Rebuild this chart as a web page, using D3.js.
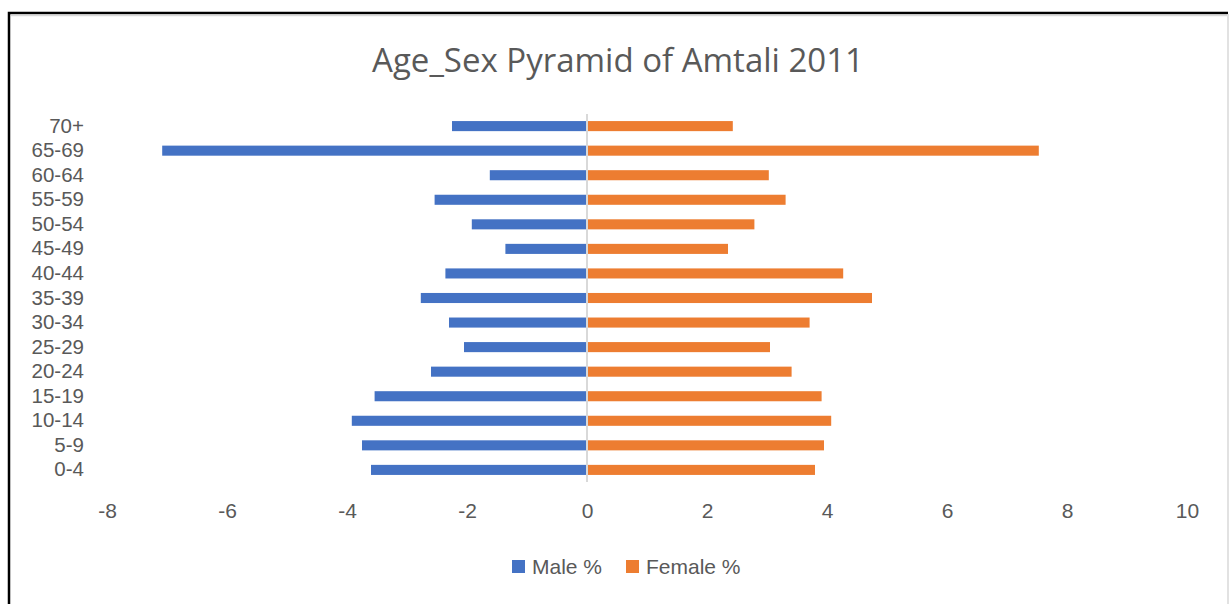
<!DOCTYPE html>
<html>
<head>
<meta charset="utf-8">
<script src="https://cdn.jsdelivr.net/npm/d3@7"></script>
<style>
  body { margin: 0; background: #fff; }
  svg text { font-family: "Liberation Sans", Arial, sans-serif; fill: #595959; }
  svg text.title { font-family: "Open Sans", "Noto Sans", sans-serif; }
</style>
</head>
<body>
<script>
const ageGroups = ["70+", "65-69", "60-64", "55-59", "50-54", "45-49", "40-44", "35-39",
  "30-34", "25-29", "20-24", "15-19", "10-14", "5-9", "0-4"];
const maleValues = [-2.25, -7.08, -1.62, -2.54, -1.92, -1.36, -2.36, -2.77,
  -2.3, -2.05, -2.6, -3.54, -3.92, -3.75, -3.6];
const femaleValues = [2.43, 7.53, 3.03, 3.31, 2.79, 2.35, 4.27, 4.75,
  3.71, 3.05, 3.41, 3.91, 4.07, 3.95, 3.8];
const xTicks = [-8, -6, -4, -2, 0, 2, 4, 6, 8, 10];
const seriesNames = ["Male %", "Female %"];
const colors = ["#4472c4", "#ed7d31"];

const w = 1229;
const h = 604;

const svg = d3.select("body")
  .append("svg")
  .attr("width", w)
  .attr("height", h);

// frame: black left/top edge, light right edge
svg.append("path")
  .attr("d", `M9,${h} V13 H1228`)
  .attr("fill", "none")
  .attr("stroke", "#000")
  .attr("stroke-width", 2.5);
svg.append("line")
  .attr("x1", 11).attr("x2", 1227).attr("y1", 15.5).attr("y2", 15.5)
  .attr("stroke", "#d9d9d9").attr("stroke-width", 1.5);
svg.append("line")
  .attr("x1", 1228).attr("x2", 1228).attr("y1", 14).attr("y2", h)
  .attr("stroke", "#d9d9d9").attr("stroke-width", 1.5);

svg.append("text")
  .attr("class", "title")
  .attr("x", 618)
  .attr("y", 72)
  .attr("text-anchor", "middle")
  .style("font-size", "33px")
  .text("Age_Sex Pyramid of Amtali 2011");

const xScale = d3.scaleLinear()
  .domain([-8, 10])
  .range([107, 1187]);

const yScale = d3.scaleBand()
  .domain(ageGroups)
  .range([113.7, 482.3])
  .paddingInner(0.59)
  .paddingOuter(0.3);

// bars
const rows = ageGroups.map((g, i) => ({ g, male: maleValues[i], female: femaleValues[i] }));

svg.selectAll("rect.male")
  .data(rows)
  .enter()
  .append("rect")
  .attr("class", "male")
  .attr("x", d => xScale(d.male))
  .attr("y", d => yScale(d.g))
  .attr("width", d => xScale(0) - xScale(d.male))
  .attr("height", yScale.bandwidth())
  .attr("fill", colors[0]);

svg.selectAll("rect.female")
  .data(rows)
  .enter()
  .append("rect")
  .attr("class", "female")
  .attr("x", xScale(0))
  .attr("y", d => yScale(d.g))
  .attr("width", d => xScale(d.female) - xScale(0))
  .attr("height", yScale.bandwidth())
  .attr("fill", colors[1]);

// zero axis line
svg.append("line")
  .attr("x1", xScale(0)).attr("x2", xScale(0))
  .attr("y1", 114).attr("y2", 482)
  .attr("stroke", "#d9d9d9")
  .attr("stroke-width", 2);

// y labels
const yAxis = d3.axisLeft(yScale).tickSize(0).tickPadding(0);
const yAxisGroup = svg.append("g")
  .attr("transform", "translate(84,0)")
  .call(yAxis);
yAxisGroup.select(".domain").remove();
yAxisGroup.selectAll("text")
  .style("font-size", "20.5px")
  .style("font-family", "Liberation Sans, Arial, sans-serif")
  .attr("fill", "#595959");

// x labels (plain hyphen for negatives)
const xAxis = d3.axisBottom(xScale)
  .tickValues(xTicks)
  .tickFormat(d => String(d))
  .tickSize(0)
  .tickPadding(0);
const xAxisGroup = svg.append("g")
  .attr("transform", "translate(0,503)")
  .call(xAxis);
xAxisGroup.select(".domain").remove();
xAxisGroup.selectAll("text")
  .style("font-size", "21px")
  .style("font-family", "Liberation Sans, Arial, sans-serif")
  .attr("fill", "#595959");

// legend
const legendX = [512, 626];
const legend = svg.selectAll("g.legend")
  .data(seriesNames)
  .enter()
  .append("g")
  .attr("class", "legend")
  .attr("transform", (d, i) => `translate(${legendX[i]},560)`);
legend.append("rect")
  .attr("width", 13)
  .attr("height", 13)
  .attr("fill", (d, i) => colors[i]);
legend.append("text")
  .attr("x", 20)
  .attr("y", 14)
  .style("font-size", "21px")
  .text(d => d);
</script>
</body>
</html>
